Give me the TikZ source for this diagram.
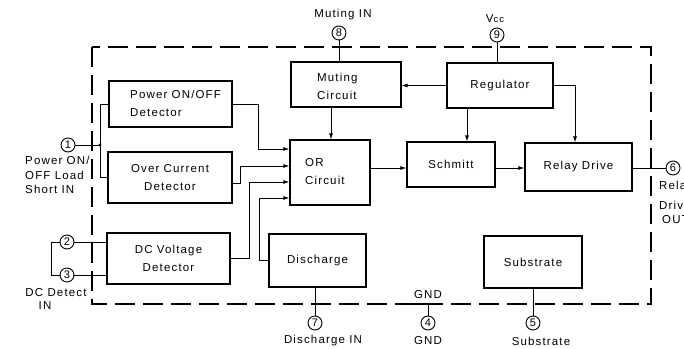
\documentclass[tikz,border=0pt]{standalone}
\usepackage{fontspec}
\setmainfont{Liberation Sans}[LetterSpace=10]
\usetikzlibrary{arrows.meta}
\newcommand{\labf}{\fontsize{11.5}{18}\selectfont}
\newcommand{\pinf}{\fontsize{11}{12}\selectfont}
\tikzset{
  blk/.style={draw, line width=1.2pt, inner sep=0pt, align=center, font=\labf},
  pin/.style={circle, draw, line width=0.9pt, minimum size=14pt, inner sep=0pt, font=\pinf},
  wire/.style={line width=0.8pt},
  arr/.style={wire, -{Latex[length=6pt,width=4pt]}},
  lbl/.style={inner sep=0pt, font=\labf, align=left},
  txt/.style={inner sep=0pt, font=\labf},
  border/.style={line width=1.4pt, dash pattern=on 20pt off 8pt},
}
\begin{document}
\begin{tikzpicture}[x=1pt,y=-1pt]
\useasboundingbox (0,0) rectangle (684,348);
\clip (0,0) rectangle (684,348);

% dashed package outline
\draw[border] (92,47) rectangle (651,304);
\coordinate (gndpt) at (428,304);
\draw[line width=1.4pt] (413,304) -- (443,304);

% blocks
\node[blk, minimum width=123pt, minimum height=46pt] (pod) at (170.5,104) {};
\node[lbl, anchor=west] (podt) at (130,103) {Power ON/OFF\\Detector};
\node[blk, minimum width=124pt, minimum height=51pt] (ocd) at (170,177.5) {Over Current\\Detector};
\node[blk, minimum width=123pt, minimum height=51pt] (dcv) at (168.5,258.5) {DC Voltage\\Detector};
\node[blk, minimum width=80pt, minimum height=65pt] (orc) at (330,172.5) {};
\node[lbl, anchor=west] (orct) at (305,172) {OR\\Circuit};
\node[blk, minimum width=97pt, minimum height=53pt] (dis) at (317.5,260.5) {Discharge};
\node[blk, minimum width=110pt, minimum height=45pt] (mut) at (346,84.5) {};
\node[lbl, anchor=west] (mutt) at (317,86) {Muting\\Circuit};
\node[blk, minimum width=106pt, minimum height=45pt] (reg) at (500,85.5) {Regulator};
\node[blk, minimum width=88pt, minimum height=45pt] (sch) at (451,164.5) {Schmitt};
\node[blk, minimum width=107pt, minimum height=48pt] (rly) at (578.5,167) {Relay Drive};
\node[blk, minimum width=98pt, minimum height=52pt] (sub) at (533,262) {Substrate};

% pins
\node[pin] (p1) at (68,145) {1};
\node[pin] (p2) at (67,242) {2};
\node[pin] (p3) at (67,275) {3};
\node[pin] (p4) at (428,323) {4};
\node[pin] (p5) at (533,323) {5};
\node[pin] (p6) at (673,168) {6};
\node[pin] (p7) at (315,323) {7};
\node[pin] (p8) at (339,33) {8};
\node[pin] (p9) at (497,35) {9};

% pin labels
\node[txt] (l8) at (343,15) {Muting IN};
\node[txt] (l9) at (495,19) {V{\fontsize{9.5}{10}\selectfont cc}};
\node[lbl, anchor=north west, font=\fontsize{11.5}{14.5}\selectfont] (l1) at (25,156) {Power ON/\\OFF Load\\Short IN};
\node[txt] (l23a) at (56,293) {DC Detect};
\node[txt] (l23b) at (45,306) {IN};
\node[txt] (l7) at (323,341) {Discharge IN};
\node[txt] (l4) at (428,341) {GND};
\node[txt] (l4b) at (428,295) {GND};
\node[txt] (l5) at (541,341) {Substrate};
\node[txt, anchor=west] (l6a) at (659,187) {Relay};
\node[txt, anchor=west] (l6b) at (659,205) {Drive};
\node[txt, anchor=west] (l6c) at (662,220) {OUT};

% helper coordinates
\coordinate (j1) at (100,145);
\coordinate (xa) at (258,0);
\coordinate (y1) at (0,149);
\coordinate (y2) at (0,166);
\coordinate (y3) at (0,182);
\coordinate (y4) at (0,198);
\coordinate (xm) at (331,0);
\coordinate (xs) at (467,0);
\coordinate (xr) at (575,0);
\coordinate (yc) at (0,168);

% pin 1 to detectors
\draw[wire] (p1) -- (j1);
\fill (j1) circle (1.6pt);
\draw[wire] (pod.west) -- (pod.west -| j1) -- (ocd.west -| j1) -- (ocd.west);

% pins 2,3
\draw[wire] (p2) -- (dcv.west |- p2);
\draw[wire] (p3) -- (dcv.west |- p3);
\draw[wire] (p2.west) -- ++(-8,0) |- (p3.west);

% inputs to OR
\draw[arr] (pod.east) -- (pod.east -| xa) |- (orc.west |- y1);
\draw[arr] ([yshift=-5.5pt]ocd.east) -- ++(8,0) |- (orc.west |- y2);
\draw[arr] (dcv.east) -- ++(19,0) |- (orc.west |- y3);
\draw[arr] (dis.west) -- ++(-9,0) |- (orc.west |- y4);
\draw[arr] (mut.south -| xm) -- (orc.north -| xm);

% regulator
\draw[arr] (reg.west) -- (reg.west -| mut.east);
\draw[arr] (reg.east) -| (rly.north -| xr);
\draw[arr] (reg.south -| xs) -- (sch.north -| xs);

% chain
\draw[arr] (orc.east |- yc) -- (sch.west |- yc);
\draw[arr] (sch.east |- yc) -- (rly.west |- yc);
\draw[wire] (rly.east |- p6) -- (p6);

% pin leads
\draw[wire] (p8) -- (mut.north -| p8);
\draw[wire] (p9) -- (reg.north -| p9);
\draw[wire] (dis.south -| p7) -- (p7);
\draw[wire] (gndpt) -- (p4);
\draw[wire] (sub.south -| p5) -- (p5);
\end{tikzpicture}
\end{document}
